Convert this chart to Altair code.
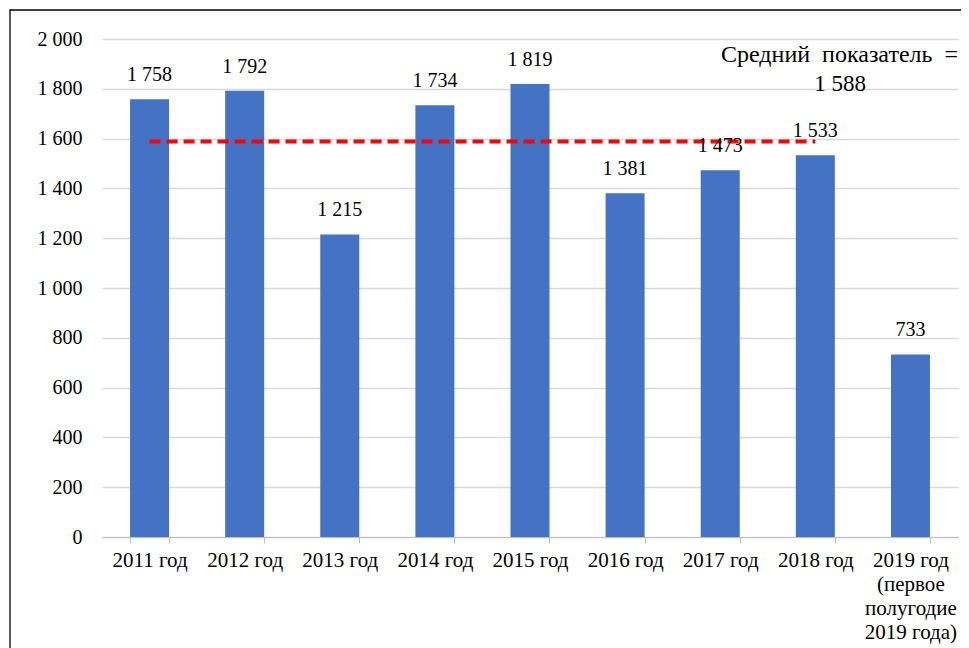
import altair as alt
import pandas as pd

categories = ["2011 год", "2012 год", "2013 год", "2014 год", "2015 год",
              "2016 год", "2017 год", "2018 год",
              "2019 год|(первое|полугодие|2019 года)"]
values = [1758, 1792, 1215, 1734, 1819, 1381, 1473, 1533, 733]
avg_value = 1588
avg_range = ["2011 год", "2018 год"]
avg_text_1 = "Средний\u00a0\u00a0показатель\u00a0\u00a0="
avg_text_2 = "1 588"

FONT = "Liberation Serif"
df = pd.DataFrame({"cat": categories, "val": values})
df["lbl"] = [f"{v:,}".replace(",", " ") for v in values]
avg_df = pd.DataFrame({"cat": avg_range, "val": [avg_value] * 2})

x = alt.X("cat:N", sort=categories, title=None,
          scale=alt.Scale(paddingInner=0.59, paddingOuter=0.295),
          axis=alt.Axis(labelAngle=0, labelFont=FONT, labelFontSize=21,
                        labelColor="#000",
                        labelExpr="datum.value ? split(datum.value, '|') : ''",
                        labelLineHeight=24, labelPadding=6, labelBaseline="top",
                        domainColor="#bfbfbf", tickColor="#bfbfbf", tickSize=6,
                        tickBand="extent", grid=False))
y = alt.Y("val:Q", title=None,
          scale=alt.Scale(domain=[0, 2000], nice=False),
          axis=alt.Axis(values=list(range(0, 2001, 200)), labelFont=FONT,
                        labelFontSize=20, labelColor="#000", labelPadding=20,
                        labelExpr="replace(format(datum.value, ','), ',', ' ')",
                        domain=False, ticks=False, gridColor="#d9d9d9",
                        gridWidth=1.3))

frame = alt.Chart(pd.DataFrame({"a": [0]})).mark_rect(
    fill=None, stroke="#000", strokeWidth=1.3).encode(
    x=alt.value(-92), x2=alt.value(870), y=alt.value(-29), y2=alt.value(700))

bars = alt.Chart(df).mark_bar(color="#4472C4").encode(x=x, y=y)
labels = alt.Chart(df).mark_text(font=FONT, fontSize=20, baseline="bottom",
                                 dy=-14, color="#000").encode(
    x=alt.X("cat:N", sort=categories), y="val:Q", text="lbl:N")
avg_line = alt.Chart(avg_df).mark_line(color="#FF0000", strokeWidth=4,
                                       strokeDash=[11, 6]).encode(
    x=alt.X("cat:N", sort=categories), y="val:Q")
ann = pd.DataFrame({"t": [avg_text_1, avg_text_2], "yv": [1936, 1818]})
ann1 = alt.Chart(ann.iloc[[0]]).mark_text(font=FONT, fontSize=24, align="right",
                                          color="#000").encode(
    x=alt.value(856), y=alt.Y("yv:Q"), text="t:N")
ann2 = alt.Chart(ann.iloc[[1]]).mark_text(font=FONT, fontSize=23, align="center",
                                          color="#000").encode(
    x=alt.value(738), y=alt.Y("yv:Q"), text="t:N")

chart = alt.layer(frame, bars, avg_line, labels, ann1, ann2).properties(
    width=856, height=498,
    padding={"left": 94, "top": 31, "right": 3, "bottom": 130},
    autosize=alt.AutoSizeParams(type="none"),
).configure_view(stroke=None)

chart.save("out.html", embed_options={"renderer": "svg", "actions": False})
